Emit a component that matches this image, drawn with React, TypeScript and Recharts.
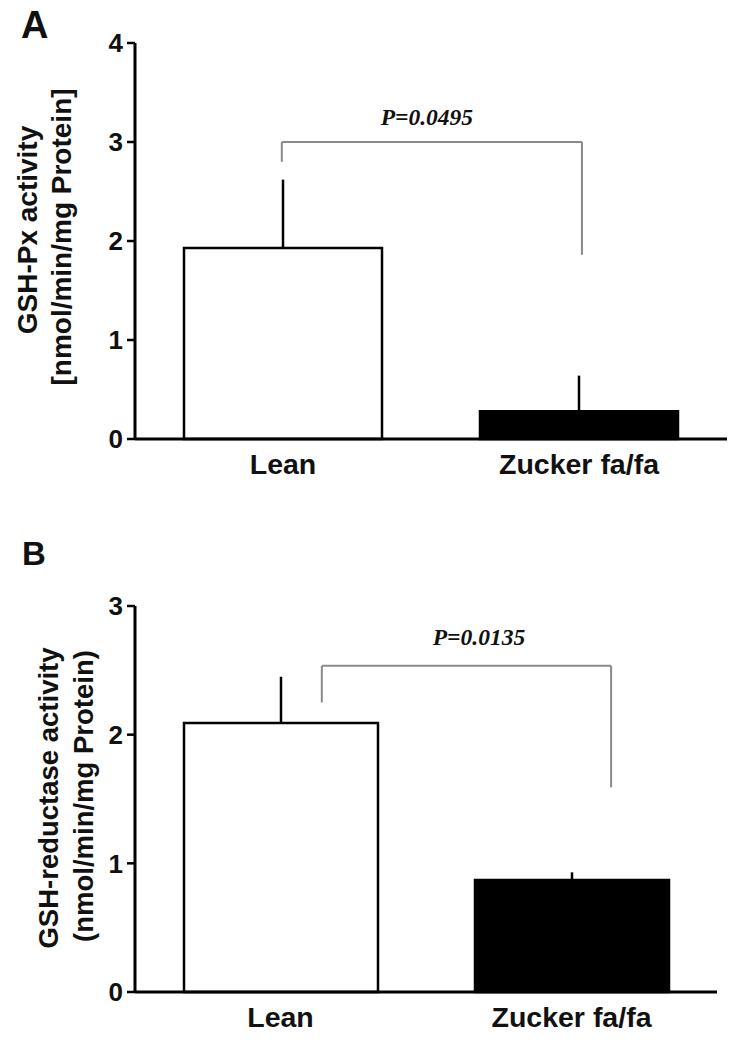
import React from 'react';
import { BarChart, Bar, XAxis, YAxis, Cell, ErrorBar, ReferenceLine, ReferenceDot, Label } from 'recharts';

// ---- data ----
const categories = ['Lean', 'Zucker fa/fa'];
const barFills = ['#ffffff', '#000000'];

const gpxMeans = [1.93, 0.28];
const gpxErrors = [0.69, 0.36];
const gpxTicks = [0, 1, 2, 3, 4];
const gpxTitle = ['GSH-Px activity', '[nmol/min/mg Protein]'];
const gpxP = 'P=0.0495';
// bracket: x as fraction of the category range, y in data units [left end, top, right end]
const gpxBracketX = [0.248, 0.755];
const gpxBracketY = [2.8, 3.0, 1.86];
const gpxPLabelPos = [0.493, 3.17];

const grMeans = [2.09, 0.87];
const grErrors = [0.36, 0.06];
const grTicks = [0, 1, 2, 3];
const grTitle = ['GSH-reductase activity', '(nmol/min/mg Protein)'];
const grP = 'P=0.0135';
const grBracketX = [0.321, 0.818];
const grBracketY = [2.25, 2.535, 1.59];
const grPLabelPos = [0.591, 2.7];

const SANS = '"Liberation Sans", Arial, Helvetica, sans-serif';
const SERIF = '"Liberation Serif", "Times New Roman", serif';

const buildRows = (means: number[], errs: number[]) =>
  categories.map((name, i) => ({ name, value: means[i], err: [0, errs[i]] }));

const CatTick = (props: any) => {
  const { x, y, payload } = props;
  return (
    <text x={x} y={y + 35} textAnchor="middle" fontSize={28.5} fontWeight="bold" fontFamily={SANS} fill="#111">
      {payload.value}
    </text>
  );
};

const YTitle = (props: any) => {
  const { viewBox, lines, xs, dys, fontSize } = props;
  const cy = viewBox.y + viewBox.height / 2;
  return (
    <g>
      {lines.map((t: string, i: number) => {
        const tx = viewBox.x + xs[i];
        const ty = cy + dys[i];
        return (
          <text
            key={i}
            x={tx}
            y={ty}
            transform={`rotate(-90 ${tx} ${ty})`}
            textAnchor="middle"
            fontSize={fontSize}
            fontWeight="bold"
            fontFamily={SANS}
            fill="#111"
          >
            {t}
          </text>
        );
      })}
    </g>
  );
};

const PLabel = (props: any) => {
  const { viewBox, text } = props;
  return (
    <text x={viewBox.x} y={viewBox.y} textAnchor="middle" fontSize={23.5} fontWeight="bold" fontStyle="italic" fontFamily={SERIF} fill="#111">
      {text}
    </text>
  );
};

type PanelProps = {
  rows: any[];
  ticks: number[];
  height: number;
  margin: any;
  barSize: number;
  title: string[];
  titleXs: number[];
  titleDys: number[];
  titleSize: number;
  bx: number[];
  by: number[];
  pText: string;
  pPos: number[];
};

const Panel = (p: PanelProps) => (
  <BarChart width={742} height={p.height} data={p.rows} margin={p.margin}>
    <XAxis
      dataKey="name"
      height={50}
      axisLine={{ stroke: '#000', strokeWidth: 3 }}
      tickLine={false}
      tickSize={0}
      tickMargin={0}
      tick={<CatTick />}
      interval={0}
    />
    <XAxis xAxisId="num" type="number" domain={[0, 1]} hide allowDataOverflow />
    <YAxis
      width={135}
      domain={[0, p.ticks[p.ticks.length - 1]]}
      ticks={p.ticks}
      interval={0}
      axisLine={{ stroke: '#000', strokeWidth: 3 }}
      tickLine={{ stroke: '#000', strokeWidth: 2.5 }}
      tickSize={8}
      tickMargin={4}
      tick={{ fontSize: 26, fontWeight: 'bold', fill: '#111', fontFamily: SANS }}
      label={<Label content={<YTitle lines={p.title} xs={p.titleXs} dys={p.titleDys} fontSize={p.titleSize} />} />}
    />
    <Bar dataKey="value" barSize={p.barSize} stroke="#000" strokeWidth={2.5} isAnimationActive={false}>
      {p.rows.map((r, i) => (
        <Cell key={r.name} fill={barFills[i]} />
      ))}
      <ErrorBar dataKey="err" direction="y" width={0} stroke="#000" strokeWidth={2.5} isAnimationActive={false} />
    </Bar>
    <ReferenceLine
      xAxisId="num"
      segment={[{ x: p.bx[0], y: p.by[1] }, { x: p.bx[1], y: p.by[1] }]}
      stroke="#8a8a8a"
      strokeWidth={2}
      ifOverflow="visible"
    />
    <ReferenceLine
      xAxisId="num"
      segment={[{ x: p.bx[0], y: p.by[0] }, { x: p.bx[0], y: p.by[1] }]}
      stroke="#8a8a8a"
      strokeWidth={2}
      ifOverflow="visible"
    />
    <ReferenceLine
      xAxisId="num"
      segment={[{ x: p.bx[1], y: p.by[2] }, { x: p.bx[1], y: p.by[1] }]}
      stroke="#8a8a8a"
      strokeWidth={2}
      ifOverflow="visible"
    />
    <ReferenceDot
      xAxisId="num"
      x={p.pPos[0]}
      y={p.pPos[1]}
      r={0}
      fill="none"
      stroke="none"
      ifOverflow="visible"
      label={<Label content={<PLabel text={p.pText} />} />}
    />
  </BarChart>
);

export default function App() {
  const rowsA = buildRows(gpxMeans, gpxErrors);
  const rowsB = buildRows(grMeans, grErrors);
  return (
    <div style={{ position: 'absolute', left: 0, top: 0, width: 742, height: 1042, background: '#fff' }}>
      <div style={{ position: 'absolute', left: 0, top: 0 }}>
        <Panel
          rows={rowsA}
          ticks={gpxTicks}
          height={520}
          margin={{ top: 43, right: 15, left: 0, bottom: 31 }}
          barSize={198}
          title={gpxTitle}
          titleXs={[37, 71]}
          titleDys={[-11, -4]}
          titleSize={28}
          bx={gpxBracketX}
          by={gpxBracketY}
          pText={gpxP}
          pPos={gpxPLabelPos}
        />
      </div>
      <div style={{ position: 'absolute', left: 0, top: 520 }}>
        <Panel
          rows={rowsB}
          ticks={grTicks}
          height={522}
          margin={{ top: 86, right: 25, left: 0, bottom: 0 }}
          barSize={194}
          title={grTitle}
          titleXs={[58, 93]}
          titleDys={[-1, -3]}
          titleSize={27.5}
          bx={grBracketX}
          by={grBracketY}
          pText={grP}
          pPos={grPLabelPos}
        />
      </div>
      <svg width={742} height={1042} style={{ position: 'absolute', left: 0, top: 0, pointerEvents: 'none' }}>
        <text x={21} y={38} fontSize={38} fontWeight="bold" fontFamily={SANS} fill="#111">A</text>
        <text x={22} y={565} fontSize={33} fontWeight="bold" fontFamily={SANS} fill="#111">B</text>
      </svg>
    </div>
  );
}
